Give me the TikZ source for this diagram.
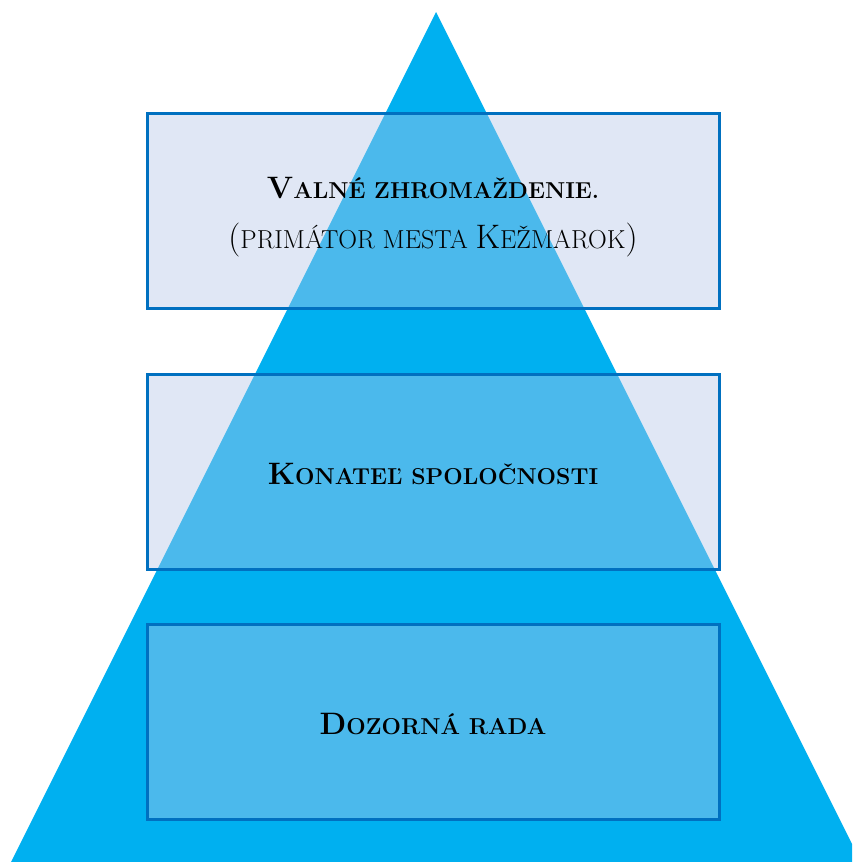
\documentclass[tikz,border=0pt]{standalone}
\usepackage{fontspec}
\definecolor{tri}{HTML}{00B0F0}
\definecolor{boxfill}{HTML}{B4C7E7}
\definecolor{boxline}{HTML}{0070C0}
\newcommand\capA[1]{{\fontsize{31}{36}\selectfont #1}}
\newcommand\capB[1]{{\fontsize{23}{28}\selectfont #1}}
\newcommand\capC[1]{{\fontsize{34}{38}\selectfont #1}}
\newcommand\capD[1]{{\fontsize{26}{30}\selectfont #1}}
\begin{document}
\begin{tikzpicture}[x=1pt,y=-1pt,
  tier/.style={draw=boxline, line width=3pt, fill=boxfill, fill opacity=0.42, draw opacity=1, text opacity=1, minimum width=572pt, minimum height=195pt, inner sep=0pt},
  label/.style={font=\bfseries, text=black, align=center}]
\useasboundingbox (0,0) rectangle (852,862);
\begin{scope}
\clip (0,0) rectangle (852,862);
\fill[tri] (436,12) -- (861,862) -- (11,862) -- cycle;
\end{scope}
\node[tier] (b1) at (433,210.5) {};
\node[tier] (b2) at (433,472) {};
\node[tier] (b3) at (433,721.5) {};
\node[label] (t1) at (433,188) {\capA{V}\capB{ALNÉ ZHROMAŽDENIE.}};
\node[text=black] (t1b) at (433,240) {\capC{(}\capD{PRIMÁTOR MESTA }\capC{K}\capD{EŽMAROK}\capC{)}};
\node[label] (t2) at (433,474) {\capA{K}\capB{ONATEĽ SPOLOČNOSTI}};
\node[label] (t3) at (433,724) {\capA{D}\capB{OZORNÁ RADA}};
\end{tikzpicture}
\end{document}
